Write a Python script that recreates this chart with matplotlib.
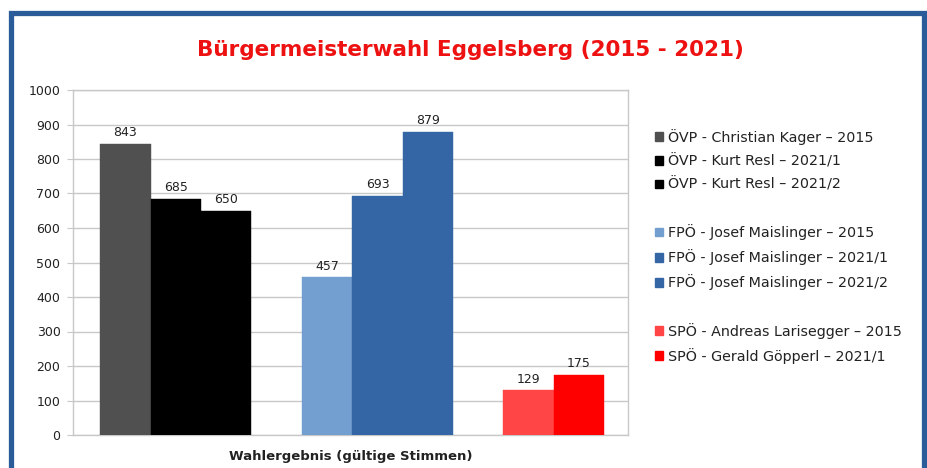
import matplotlib
matplotlib.use("Agg")
import matplotlib.pyplot as plt
from matplotlib.patches import Patch, Rectangle

plt.rcParams['font.family'] = ['DejaVu Sans']

title = "Bürgermeisterwahl Eggelsberg (2015 - 2021)"
xlabel = "Wahlergebnis (gültige Stimmen)"
series_labels = [
    "ÖVP - Christian Kager – 2015",
    "ÖVP - Kurt Resl – 2021/1",
    "ÖVP - Kurt Resl – 2021/2",
    None,
    "FPÖ - Josef Maislinger – 2015",
    "FPÖ - Josef Maislinger – 2021/1",
    "FPÖ - Josef Maislinger – 2021/2",
    None,
    "SPÖ - Andreas Larisegger – 2015",
    "SPÖ - Gerald Göpperl – 2021/1",
]
values = [843, 685, 650, None, 457, 693, 879, None, 129, 175]
colors = ["#505050", "#000000", "#000000", None,
          "#729fcf", "#3465a4", "#3465a4", None,
          "#ff4545", "#ff0000"]
yticks = [0, 100, 200, 300, 400, 500, 600, 700, 800, 900, 1000]

W, H = 928, 468
fig = plt.figure(figsize=(W / 100, H / 100), dpi=100)
fig.patch.set_facecolor("white")

# blue frame
frame_col = "#2a5c9a"
fig.patches.append(Rectangle((11.5 / W, -0.05), (924 - 11.5) / W, (H - 12.5) / H + 0.05,
                             transform=fig.transFigure, fill=False,
                             edgecolor=frame_col, linewidth=3.8, zorder=10))

ax = fig.add_axes([73 / W, (H - 435) / H, (628 - 73) / W, (435 - 90) / H])
ax.set_facecolor("white")

handles = []
for i, (v, c, lab) in enumerate(zip(values, colors, series_labels)):
    if v is None:
        handles.append(Patch(facecolor="none", edgecolor="none", label=" "))
        continue
    ax.bar(i, v, width=1.0, color=c, edgecolor=c, linewidth=0.3, zorder=3)
    ax.text(i, v + 14, str(v), ha="center", va="bottom", fontsize=9,
            color="#222222", zorder=4)
    handles.append(Patch(facecolor=c, edgecolor=c, label=lab))

ax.set_xlim(-1.04, 9.97)
ax.set_ylim(0, 1000)
ax.set_yticks(yticks)
ax.set_yticklabels([str(t) for t in yticks], fontsize=9, color="#222222")
ax.set_xticks([])
ax.yaxis.grid(True, color="#c8c8c8", linewidth=1.0, zorder=0)
ax.set_axisbelow(True)
for s in ax.spines.values():
    s.set_color("#c8c8c8")
    s.set_linewidth(1.0)
ax.tick_params(axis="y", length=4, color="#c8c8c8", pad=5)
ax.set_xlabel(xlabel, fontsize=9.5, fontweight="bold", color="#222222", labelpad=11)

fig.text(470 / W, 1 - 50 / H, title, ha="center", va="center", fontsize=15.5,
         fontweight="bold", color="#ee1111")

leg = fig.legend(handles=handles, loc="upper left",
                 bbox_to_anchor=(649 / W, 1 - 123 / H),
                 frameon=False, fontsize=10.3, handlelength=0.55, handleheight=0.55,
                 handletextpad=0.35, labelspacing=0.64, borderaxespad=0)
for t in leg.get_texts():
    t.set_color("#222222")

fig.savefig("out.png", dpi=100, facecolor="white")
